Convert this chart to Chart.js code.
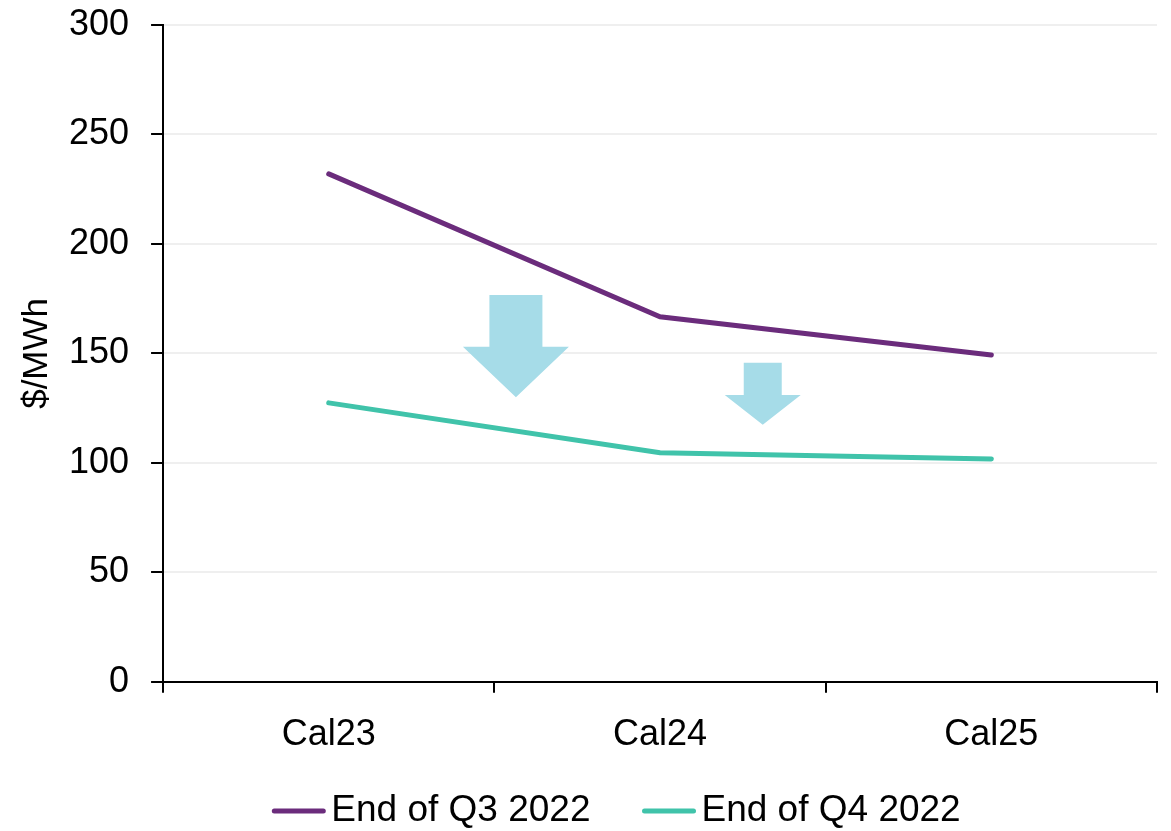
<!DOCTYPE html>
<html>
<head>
<meta charset="utf-8">
<script src="https://cdn.jsdelivr.net/npm/chart.js@4/dist/chart.umd.min.js"></script>
<style>
  html, body { margin: 0; padding: 0; background: #fff; }
  #wrap { width: 1171px; height: 831px; }
</style>
</head>
<body>
<div id="wrap"><canvas id="price_chart" width="1171" height="831"></canvas></div>
<script>
const categories = ["Cal23", "Cal24", "Cal25"];
const endQ3 = [232, 166.7, 149.3];
const endQ4 = [127.4, 104.6, 101.8];
const seriesNames = ["End of Q3 2022", "End of Q4 2022"];
const yTicks = [0, 50, 100, 150, 200, 250, 300];

const FONT = "'Liberation Sans', Arial, sans-serif";
const PURPLE = "#6b2c7c";
const TEAL = "#40c3aa";
const ARROW = "#a6dce8";

// down arrows between the two curves, in axis units (x = category index, y = $/MWh)
const arrows = [
  { x: 0.565, top: 176.7, neck: 153, tip: 130, shaft: 53, head: 106 },
  { x: 1.31, top: 145.7, neck: 131, tip: 117.4, shaft: 38, head: 76 },
];

const arrowPlugin = {
  id: "arrows",
  beforeDatasetsDraw(chart) {
    const ctx = chart.ctx;
    const xs = chart.scales.x;
    const ys = chart.scales.y;
    ctx.save();
    ctx.fillStyle = ARROW;
    for (let a of arrows) {
      let cx = xs.getPixelForValue(a.x);
      let top = ys.getPixelForValue(a.top);
      let neck = ys.getPixelForValue(a.neck);
      let tip = ys.getPixelForValue(a.tip);
      ctx.beginPath();
      ctx.moveTo(cx - a.shaft / 2, top);
      ctx.lineTo(cx + a.shaft / 2, top);
      ctx.lineTo(cx + a.shaft / 2, neck);
      ctx.lineTo(cx + a.head / 2, neck);
      ctx.lineTo(cx, tip);
      ctx.lineTo(cx - a.head / 2, neck);
      ctx.lineTo(cx - a.shaft / 2, neck);
      ctx.closePath();
      ctx.fill();
    }
    ctx.restore();
  },
};

// legend drawn by hand: short line, tight gap, then the label
const legendPlugin = {
  id: "bottomLegend",
  afterDraw(chart) {
    const ctx = chart.ctx;
    const lineW = 53, gap = 6, itemGap = 52;
    const y = 811;
    ctx.save();
    ctx.font = "37px " + FONT;
    ctx.textBaseline = "middle";
    let widths = chart.data.datasets.map((d) => lineW + gap + ctx.measureText(d.label).width);
    let total = widths.reduce((s, w) => s + w, 0) + itemGap * (widths.length - 1);
    let x = (chart.width - total) / 2 + 31;
    chart.data.datasets.forEach((d, i) => {
      ctx.strokeStyle = d.borderColor;
      ctx.lineWidth = 5;
      ctx.lineCap = "round";
      ctx.beginPath();
      ctx.moveTo(x + 2, y);
      ctx.lineTo(x + lineW - 2, y);
      ctx.stroke();
      ctx.fillStyle = "#000";
      ctx.fillText(d.label, x + lineW + gap, y);
      x += widths[i] + itemGap;
    });
    ctx.restore();
  },
};

new Chart(document.getElementById("price_chart").getContext("2d"), {
  type: "line",
  data: {
    labels: categories,
    datasets: [
      {
        label: seriesNames[0],
        data: endQ3,
        borderColor: PURPLE,
        backgroundColor: PURPLE,
        borderWidth: 5,
        borderCapStyle: "round",
        pointRadius: 0,
        tension: 0,
      },
      {
        label: seriesNames[1],
        data: endQ4,
        borderColor: TEAL,
        backgroundColor: TEAL,
        borderWidth: 5,
        borderCapStyle: "round",
        pointRadius: 0,
        tension: 0,
      },
    ],
  },
  options: {
    responsive: false,
    animation: false,
    layout: { padding: { top: 25, right: 14, bottom: 53, left: 0 } },
    plugins: {
      legend: { display: false },
      tooltip: { enabled: false },
    },
    scales: {
      x: {
        offset: true,
        grid: {
          offset: true,
          drawOnChartArea: false,
          color: "#000",
          lineWidth: 2,
          tickLength: 11,
        },
        border: { color: "#000", width: 2 },
        ticks: {
          color: "#000",
          font: { family: FONT, size: 36 },
          padding: 21,
          maxRotation: 0,
        },
      },
      y: {
        min: 0,
        max: 300,
        afterBuildTicks(scale) {
          scale.ticks = yTicks.map((v) => ({ value: v }));
        },
        afterFit(scale) {
          // let the top label hang above the plot area
          scale.paddingTop = 0;
          scale.paddingBottom = 0;
        },
        grid: {
          color: "#efefef",
          lineWidth: 2,
          tickColor: "#000",
          tickLength: 12,
        },
        border: { color: "#000", width: 2 },
        ticks: {
          color: "#000",
          font: { family: FONT, size: 36 },
          padding: 22,
        },
        title: {
          display: true,
          text: "$/MWh",
          color: "#000",
          font: { family: FONT, size: 35 },
          padding: { top: 16, bottom: -11 },
        },
      },
    },
  },
  plugins: [arrowPlugin, legendPlugin],
});
</script>
</body>
</html>
